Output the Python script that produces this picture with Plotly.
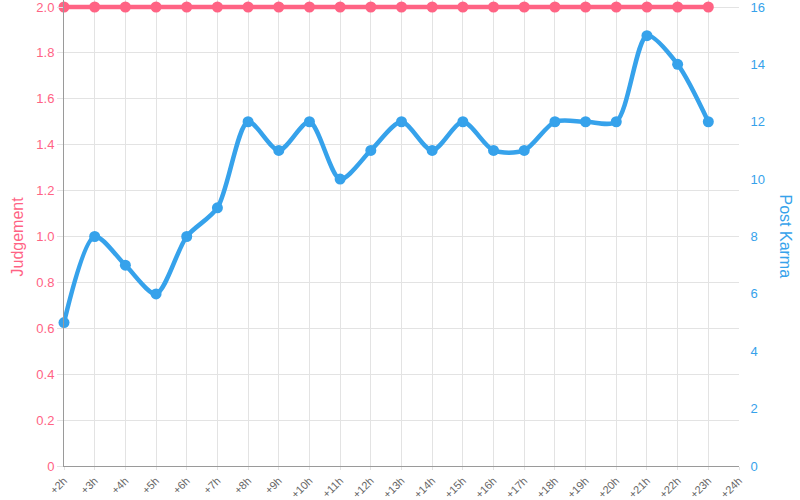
import plotly.graph_objects as go

hours = ["+2h", "+3h", "+4h", "+5h", "+6h", "+7h", "+8h", "+9h", "+10h", "+11h", "+12h",
         "+13h", "+14h", "+15h", "+16h", "+17h", "+18h", "+19h", "+20h", "+21h", "+22h",
         "+23h", "+24h"]
judgement = [2.0] * 22
post_karma = [5, 8, 7, 6, 8, 9, 12, 11, 12, 10, 11, 12, 11, 12, 11, 11, 12, 12, 12, 15, 14, 12]
left_ticks = [0, 0.2, 0.4, 0.6, 0.8, 1.0, 1.2, 1.4, 1.6, 1.8, 2.0]
left_labels = ["0", "0.2", "0.4", "0.6", "0.8", "1.0", "1.2", "1.4", "1.6", "1.8", "2.0"]
right_ticks = [0, 2, 4, 6, 8, 10, 12, 14, 16]

PINK = "#ff6384"
BLUE = "#36a2eb"
GRID = "#e3e3e3"
FONT = "Liberation Sans, Arial, sans-serif"

PLOT_H = 466.0          # height of the plot box (t=0, b=34)
TOP_PAD = 7.0           # pixels above the 2.0 line in the reference
FRAC = (PLOT_H - TOP_PAD) / PLOT_H
Y_MAX = max(left_ticks)
K_MAX = max(right_ticks)

fig = go.Figure()
fig.add_trace(go.Scatter(
    x=hours[:len(post_karma)], y=post_karma, name="Post Karma", yaxis="y2",
    mode="lines+markers", line=dict(color=BLUE, width=4.5, shape="spline", smoothing=0.8),
    marker=dict(color=BLUE, size=11), cliponaxis=False))
fig.add_trace(go.Scatter(
    x=hours[:len(judgement)], y=judgement, name="Judgement", yaxis="y",
    mode="lines+markers", line=dict(color=PINK, width=4.5, shape="spline", smoothing=0.8),
    marker=dict(color=PINK, size=11), cliponaxis=False))

fig.update_layout(
    width=800, height=500,
    margin=dict(l=64, r=61, t=0, b=34, autoexpand=False),
    paper_bgcolor="white", plot_bgcolor="white",
    showlegend=False,
    font=dict(family=FONT, size=12, color="#666"),
    xaxis=dict(type="category", categoryorder="array", categoryarray=hours,
               tickmode="array", tickvals=hours, ticktext=hours,
               range=[0, len(hours) - 1], tickangle=-45, automargin=False,
               showgrid=True, gridcolor=GRID, gridwidth=1,
               showline=True, linecolor="#9a9a9a", linewidth=1,
               ticks="outside", ticklen=3, tickcolor=GRID,
               tickfont=dict(size=11, color="#666"), zeroline=False,
               ticklabeloverflow="allow"),
    yaxis=dict(range=[0, Y_MAX / FRAC], tickmode="array", tickvals=left_ticks, ticktext=left_labels,
               automargin=False,
               showgrid=True, gridcolor=GRID, gridwidth=1,
               showline=True, linecolor="#9a9a9a", linewidth=1,
               ticks="outside", ticklen=6, tickcolor=GRID,
               tickfont=dict(size=13, color=PINK), zeroline=False,
               ticklabeloverflow="allow"),
    yaxis2=dict(range=[0, K_MAX / FRAC], tickmode="array", tickvals=right_ticks,
                overlaying="y", side="right", automargin=False,
                showgrid=False, showline=False, zeroline=False,
                ticks="outside", ticklen=8, tickcolor="rgba(0,0,0,0)",
                tickfont=dict(size=13, color=BLUE),
                ticklabeloverflow="allow"),
    annotations=[
        dict(text="Judgement", xref="paper", yref="paper", x=(17 - 64) / 675, y=FRAC / 2,
             xanchor="center", yanchor="middle", textangle=-90, showarrow=False,
             font=dict(size=16, color=PINK, family=FONT)),
        dict(text="Post Karma", xref="paper", yref="paper", x=1 + 46 / 675, y=FRAC / 2,
             xanchor="center", yanchor="middle", textangle=90, showarrow=False,
             font=dict(size=16, color=BLUE, family=FONT)),
    ],
)

fig.write_html("out.html", config={"displayModeBar": False},
               post_script="document.body.style.margin='0';document.body.style.padding='0';document.body.style.overflow='hidden';")
